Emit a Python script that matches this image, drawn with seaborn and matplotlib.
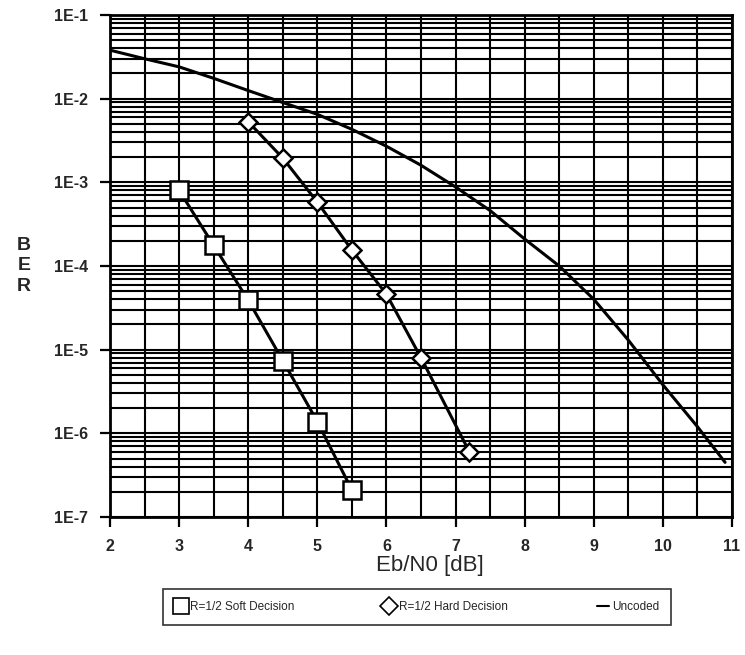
import numpy as np
import pandas as pd
import matplotlib
matplotlib.use("Agg")
import matplotlib.pyplot as plt
from matplotlib.lines import Line2D
from matplotlib.ticker import FixedLocator, FuncFormatter, LogLocator, NullFormatter
import seaborn as sns

# Eb/N0 [dB] and bit error rates
soft_ebn0 = [3.0, 3.5, 4.0, 4.5, 5.0, 5.5]
soft_ber = [8.0e-4, 1.76e-4, 3.9e-5, 7.4e-6, 1.38e-6, 2.1e-7]

hard_ebn0 = [4.0, 4.5, 5.0, 5.5, 6.0, 6.5, 7.2]
hard_ber = [5.3e-3, 1.95e-3, 5.8e-4, 1.55e-4, 4.6e-5, 8.0e-6, 6.0e-7]

uncoded_ebn0 = [2.0, 2.5, 3.0, 3.5, 4.0, 4.5, 5.0, 5.5, 6.0, 6.5, 7.0,
                7.5, 8.0, 8.5, 9.0, 9.5, 10.0, 10.5, 10.9]
uncoded_ber = [3.8e-2, 3.0e-2, 2.4e-2, 1.75e-2, 1.25e-2, 9.0e-3, 6.5e-3,
               4.3e-3, 2.7e-3, 1.6e-3, 8.8e-4, 4.6e-4, 2.1e-4, 1.0e-4,
               4.0e-5, 1.3e-5, 3.8e-6, 1.2e-6, 4.5e-7]

x_ticks = [2, 3, 4, 5, 6, 7, 8, 9, 10, 11]
y_exponents = [-1, -2, -3, -4, -5, -6, -7]

legend_labels = ["R=1/2 Soft Decision", "R=1/2 Hard Decision", "Uncoded"]

sns.set_style("white", {"xtick.bottom": True, "ytick.left": True})
plt.rcParams["font.family"] = ["Liberation Sans", "DejaVu Sans"]
plt.rcParams["xtick.major.size"] = 7
plt.rcParams["ytick.major.size"] = 7
plt.rcParams["xtick.major.width"] = 1.6
plt.rcParams["ytick.major.width"] = 1.6

fig = plt.figure(figsize=(7.45, 6.55), dpi=100)
ax = fig.add_axes([110 / 745, 1 - 517 / 655, 622 / 745, 502 / 655])

ax.set_yscale("log")
ax.set_xlim(2, 11)
ax.set_ylim(1e-7, 1e-1)

# grid: every 0.5 dB vertically, every log-minor step horizontally
ax.xaxis.set_major_locator(FixedLocator(x_ticks))
ax.xaxis.set_minor_locator(FixedLocator(np.arange(2.5, 11, 1.0)))
ax.yaxis.set_major_locator(FixedLocator([10.0 ** e for e in y_exponents]))
ax.yaxis.set_minor_locator(LogLocator(base=10, subs=np.arange(2, 10), numticks=20))
ax.yaxis.set_minor_formatter(NullFormatter())
ax.yaxis.set_major_formatter(FuncFormatter(lambda v, p: "1E%d" % round(np.log10(v))))
ax.xaxis.set_major_formatter(FuncFormatter(lambda v, p: "%d" % v))

ax.grid(True, which="both", axis="both", color="black", linewidth=1.5)
ax.set_axisbelow(True)

ax.tick_params(axis="both", which="major", direction="out", length=7, width=1.6,
               color="black", labelsize=11.5, pad=9)
ax.tick_params(axis="both", which="minor", length=0)
for lab in ax.get_xticklabels() + ax.get_yticklabels():
    lab.set_fontweight("bold")

for sp in ax.spines.values():
    sp.set_color("black")
    sp.set_linewidth(2.0)

df_uncoded = pd.DataFrame({"ebn0": uncoded_ebn0, "ber": uncoded_ber})
df_soft = pd.DataFrame({"ebn0": soft_ebn0, "ber": soft_ber})
df_hard = pd.DataFrame({"ebn0": hard_ebn0, "ber": hard_ber})

sns.lineplot(data=df_uncoded, x="ebn0", y="ber", ax=ax, color="black",
             linewidth=2.2, zorder=3, legend=False)
sns.lineplot(data=df_soft, x="ebn0", y="ber", ax=ax, color="black",
             linewidth=2.2, marker="s", markersize=13, markerfacecolor="white",
             markeredgecolor="black", markeredgewidth=1.8, zorder=4, legend=False)
sns.lineplot(data=df_hard, x="ebn0", y="ber", ax=ax, color="black",
             linewidth=2.2, marker="D", markersize=9, markerfacecolor="white",
             markeredgecolor="black", markeredgewidth=1.8, zorder=4, legend=False)

ax.set_xlabel("")
ax.set_ylabel("")

for t in ax.xaxis.get_major_ticks() + ax.yaxis.get_major_ticks():
    t.tick1line.set_visible(True)
    t.tick1line.set_markersize(7)
    t.tick1line.set_markeredgewidth(1.6)
    t.tick1line.set_color("black")

fig.text(430 / 745, 1 - 566 / 655, "Eb/N0 [dB]", ha="center", va="center", fontsize=16)
fig.text(24 / 745, 1 - 266 / 655, "B\nE\nR", ha="center", va="center",
         fontsize=14, fontweight="bold", linespacing=1.3)

handles = [
    Line2D([], [], linestyle="none", marker="s", markersize=11,
           markerfacecolor="white", markeredgecolor="black", markeredgewidth=1.2),
    Line2D([], [], linestyle="none", marker="D", markersize=9,
           markerfacecolor="white", markeredgecolor="black", markeredgewidth=1.2),
    Line2D([], [], color="black", linewidth=1.5),
]
leg = ax.legend(handles, legend_labels, loc="center", ncol=3, mode="expand",
                bbox_to_anchor=(163 / 745, 1 - 628 / 655, 508 / 745, 42 / 655),
                bbox_transform=fig.transFigure,
                fontsize=8.5, frameon=True, fancybox=False, edgecolor="black",
                handlelength=1.0, handletextpad=0.3, borderpad=1.0,
                borderaxespad=0.0)
leg.get_frame().set_linewidth(1.2)

fig.savefig("out.png", dpi=100)
